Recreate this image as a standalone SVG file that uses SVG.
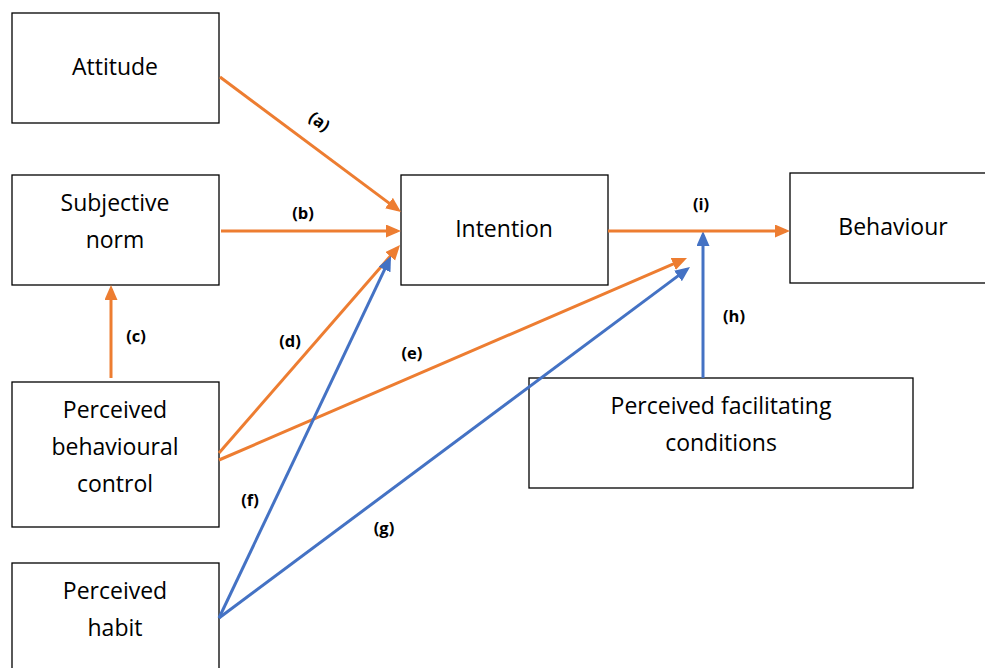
<svg xmlns="http://www.w3.org/2000/svg" width="985" height="668" viewBox="0 0 985 668">
  <style>
    .box { fill: #ffffff; stroke: #000000; stroke-width: 1.3; }
    .txt { font-family: "Open Sans", "Liberation Sans", sans-serif; font-size: 23px; fill: #000000; text-anchor: middle; }
    .lbl { font-family: "Open Sans", "Liberation Sans", sans-serif; font-size: 16.5px; font-weight: bold; fill: #000000; text-anchor: middle; }
    .or { stroke: #ED7D31; stroke-width: 3; fill: none; marker-end: url(#headOr); }
    .bl { stroke: #4472C4; stroke-width: 3; fill: none; marker-end: url(#headBl); }
  </style>
  <defs>
    <marker id="headOr" markerUnits="userSpaceOnUse" markerWidth="16" markerHeight="14" refX="11" refY="6.5" orient="auto">
      <path d="M0,0 L15,6.5 L0,13 Z" fill="#ED7D31"/>
    </marker>
    <marker id="headBl" markerUnits="userSpaceOnUse" markerWidth="16" markerHeight="14" refX="11" refY="6.5" orient="auto">
      <path d="M0,0 L15,6.5 L0,13 Z" fill="#4472C4"/>
    </marker>
  </defs>
  <rect width="985" height="668" fill="#ffffff"/>

  <g id="attitude">
    <rect class="box" x="12" y="13" width="207" height="110"/>
    <text class="txt" x="115" y="75">Attitude</text>
  </g>
  <g id="subjective-norm">
    <rect class="box" x="12" y="175" width="207" height="110"/>
    <text class="txt" x="115" y="211">Subjective</text>
    <text class="txt" x="115" y="248">norm</text>
  </g>
  <g id="pbc">
    <rect class="box" x="12" y="382" width="207" height="145"/>
    <text class="txt" x="115" y="418">Perceived</text>
    <text class="txt" x="115" y="455">behavioural</text>
    <text class="txt" x="115" y="492">control</text>
  </g>
  <g id="habit">
    <rect class="box" x="12" y="563" width="207" height="120"/>
    <text class="txt" x="115" y="599">Perceived</text>
    <text class="txt" x="115" y="636">habit</text>
  </g>
  <g id="intention">
    <rect class="box" x="401" y="175" width="207" height="110"/>
    <text class="txt" x="504" y="237">Intention</text>
  </g>
  <g id="behaviour">
    <rect class="box" x="790" y="173" width="210" height="110"/>
    <text class="txt" x="893" y="235">Behaviour</text>
  </g>
  <g id="facilitating">
    <rect class="box" x="529" y="378" width="384" height="110"/>
    <text class="txt" x="721" y="414">Perceived facilitating</text>
    <text class="txt" x="721" y="451">conditions</text>
  </g>

  <g id="connectors">
    <line class="or" x1="220" y1="77" x2="397.8" y2="209.6"/>
    <line class="or" x1="221" y1="231" x2="397" y2="231"/>
    <line class="or" x1="111" y1="378" x2="111" y2="289"/>
    <line class="or" x1="219" y1="453" x2="397.4" y2="248"/>
    <line class="or" x1="219" y1="460" x2="683.3" y2="259.6"/>
    <line class="bl" x1="219" y1="618" x2="389.3" y2="259.6"/>
    <line class="bl" x1="219" y1="618" x2="686.8" y2="269.4"/>
    <line class="bl" x1="703" y1="378" x2="703" y2="235"/>
    <line class="or" x1="608" y1="231" x2="786" y2="231"/>
  </g>

  <g id="labels">
    <text class="lbl" transform="translate(316,126) rotate(37)">(a)</text>
    <text class="lbl" x="303" y="219">(b)</text>
    <text class="lbl" x="136" y="342">(c)</text>
    <text class="lbl" x="290" y="347">(d)</text>
    <text class="lbl" x="412" y="359">(e)</text>
    <text class="lbl" x="250" y="506">(f)</text>
    <text class="lbl" x="384" y="534">(g)</text>
    <text class="lbl" x="734" y="322">(h)</text>
    <text class="lbl" x="701" y="210">(i)</text>
  </g>
</svg>
